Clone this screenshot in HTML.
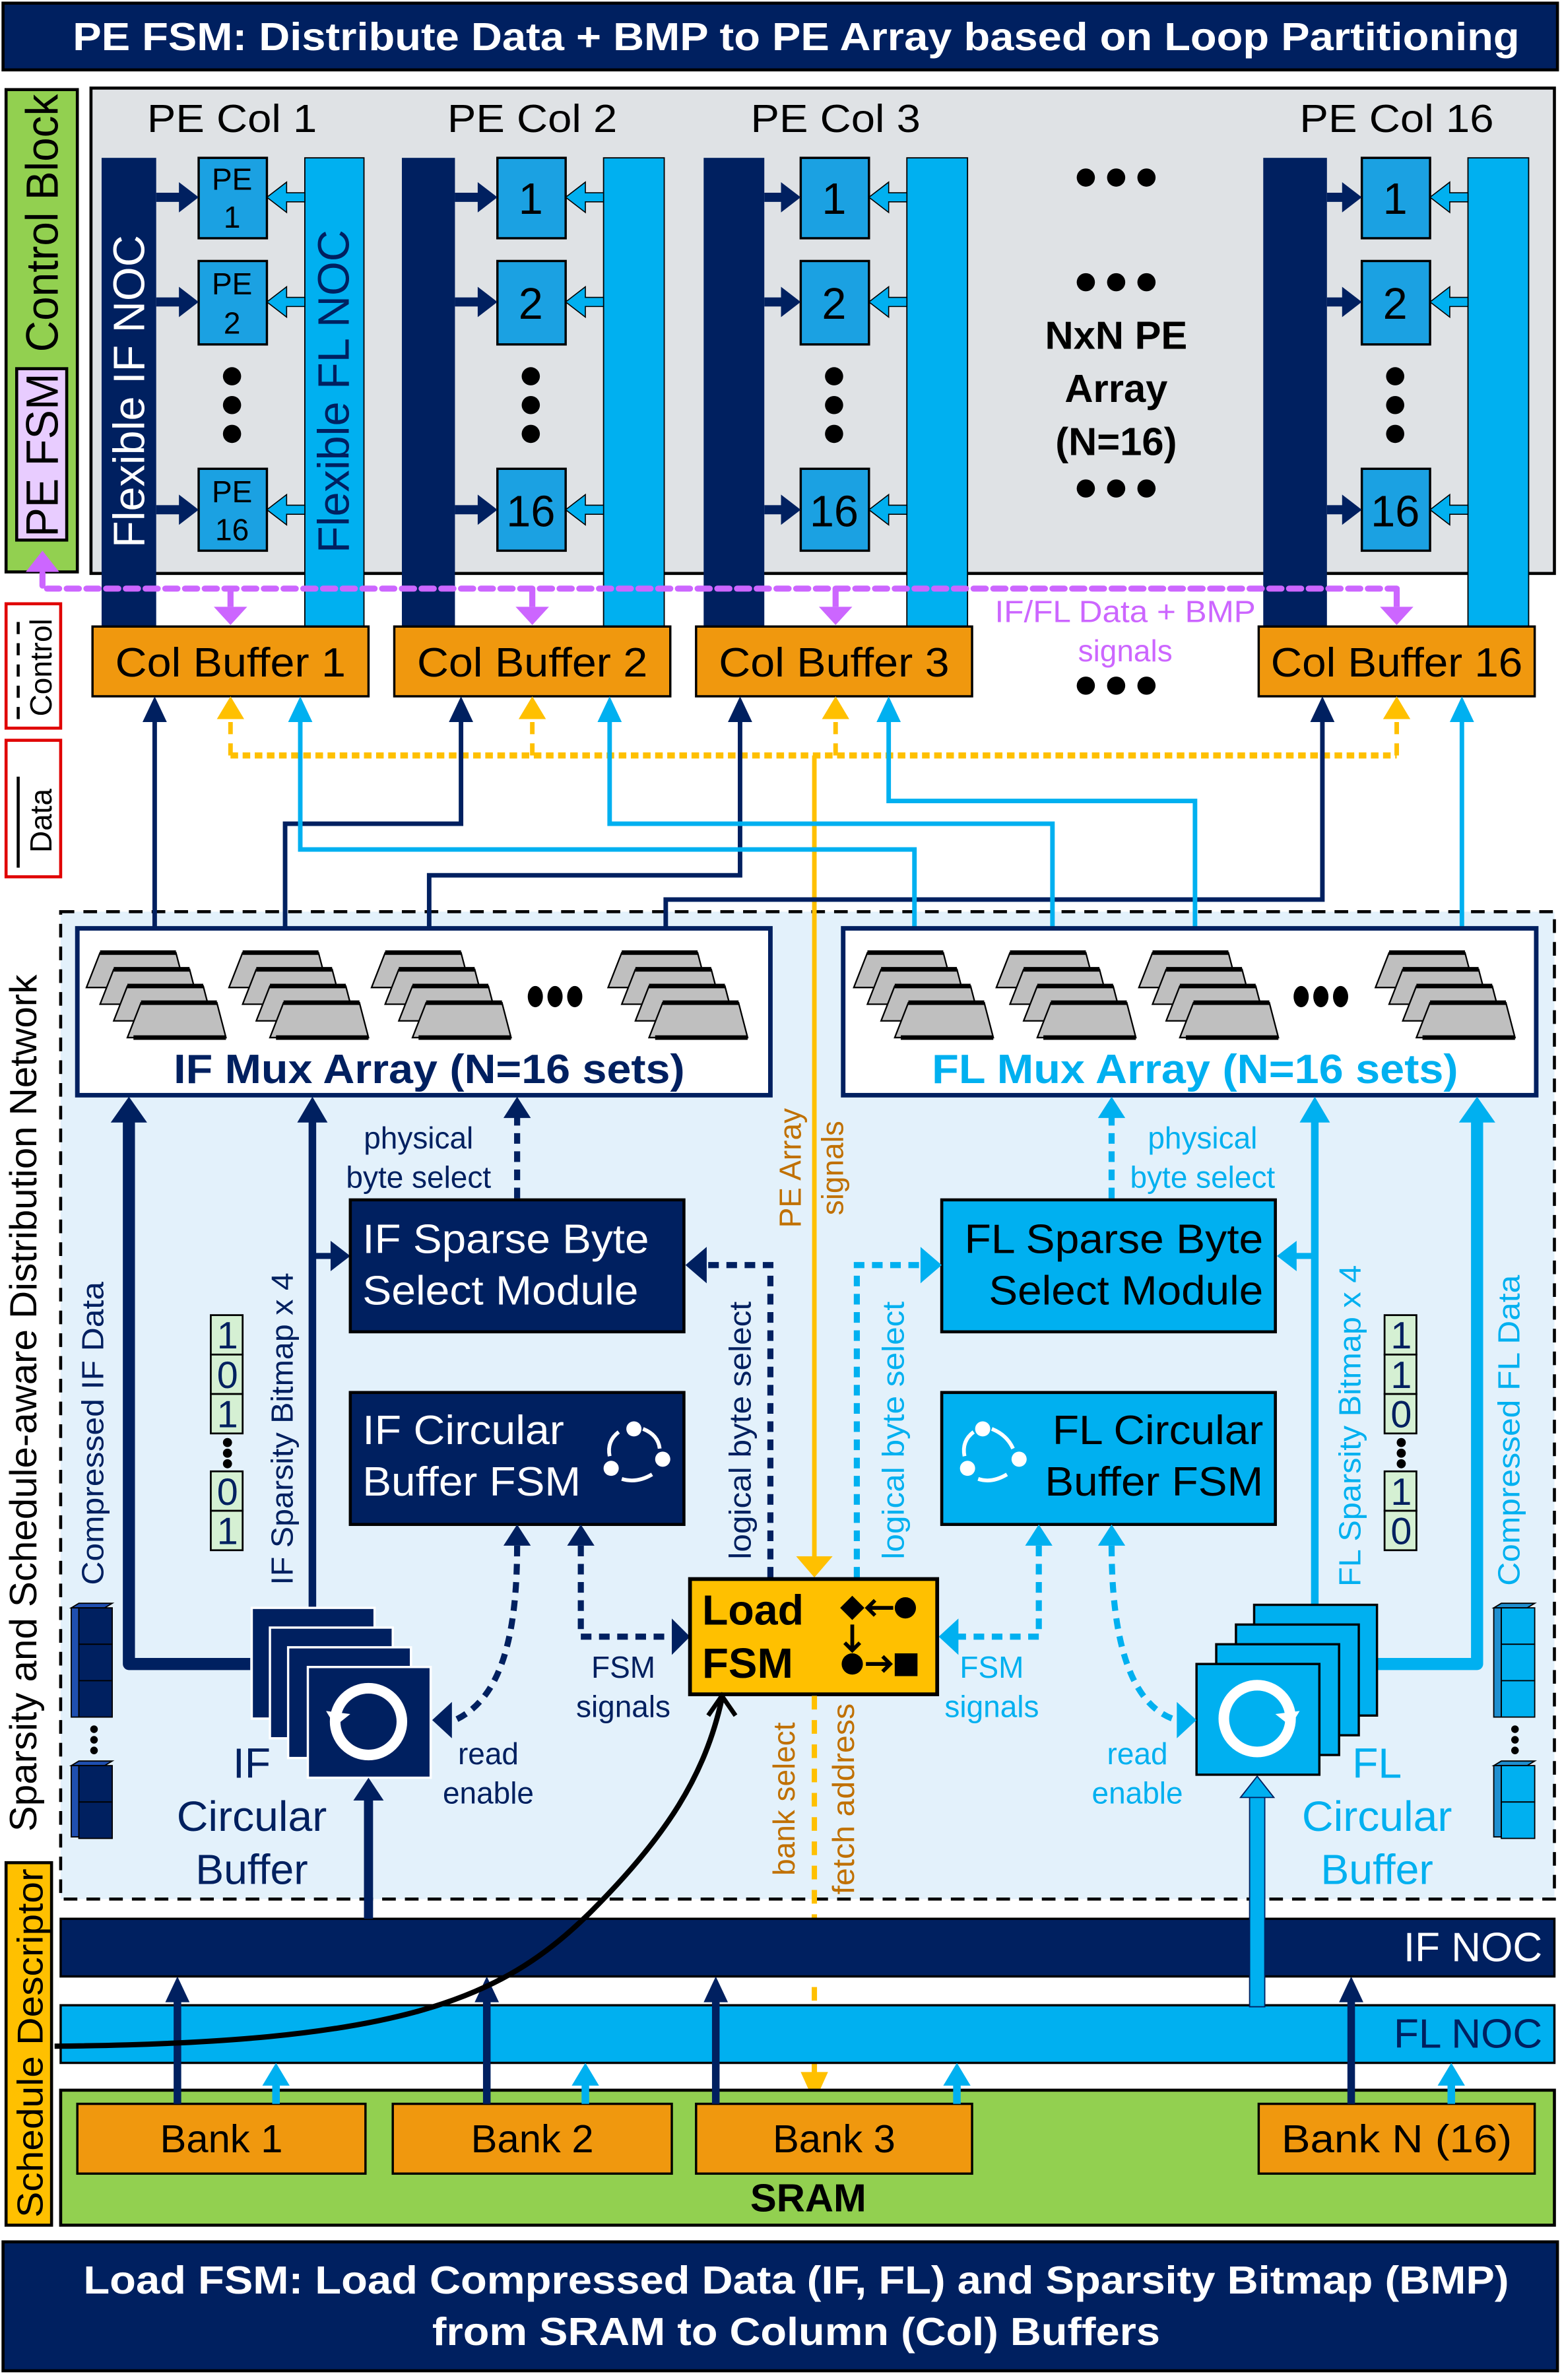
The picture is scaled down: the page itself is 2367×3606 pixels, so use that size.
<!DOCTYPE html>
<html><head><meta charset="utf-8"><style>html,body{margin:0;padding:0;background:#fff}svg{display:block}text{font-family:"Liberation Sans",Arial,sans-serif}</style></head>
<body>
<svg xmlns="http://www.w3.org/2000/svg" width="2367" height="3606" viewBox="0 0 1030 1569">
<defs>
<g id="mux">
<path d="M4,0h50l6,23h-65z" fill="#BFBFBF" stroke="#000" stroke-width="1"/>
<path d="M13,11h50l6,23h-65z" fill="#BFBFBF" stroke="#000" stroke-width="1"/>
<path d="M22,22h50l6,23h-65z" fill="#BFBFBF" stroke="#000" stroke-width="1"/>
<path d="M31,33h50l6,23h-65z" fill="#BFBFBF" stroke="#000" stroke-width="1"/>
<path d="M4,0h50M13,11h50M22,22h50M31,33h50M26,56h61" stroke="#000" stroke-width="3"/>
</g>
</defs>

<rect x="2" y="2" width="1025" height="44" fill="#002060" stroke="#000" stroke-width="2"/>
<text x="525" y="33" font-size="26" font-weight="bold" fill="#fff" text-anchor="middle" textLength="954" lengthAdjust="spacingAndGlyphs">PE FSM: Distribute Data + BMP to PE Array based on Loop Partitioning</text>

<rect x="4" y="59" width="47" height="318" fill="#92D050" stroke="#000" stroke-width="2"/>
<text transform="translate(38,147) rotate(-90)" font-size="30" text-anchor="middle" textLength="170" lengthAdjust="spacingAndGlyphs" fill="#000">Control Block</text>
<rect x="11" y="243" width="33" height="113" fill="#E8CCFF" stroke="#000" stroke-width="2"/>
<text transform="translate(38,300) rotate(-90)" font-size="30" text-anchor="middle" textLength="108" lengthAdjust="spacingAndGlyphs" fill="#000">PE FSM</text>

<rect x="60" y="58" width="965" height="320" fill="#DFE2E5" stroke="#000" stroke-width="2"/>
<g font-size="26" text-anchor="middle" fill="#000">
<text x="153" y="87" textLength="112" lengthAdjust="spacingAndGlyphs">PE Col 1</text><text x="351" y="87" textLength="112" lengthAdjust="spacingAndGlyphs">PE Col 2</text><text x="551" y="87" textLength="112" lengthAdjust="spacingAndGlyphs">PE Col 3</text><text x="921" y="87" textLength="128" lengthAdjust="spacingAndGlyphs">PE Col 16</text>
</g>
<g font-size="26" font-weight="bold" text-anchor="middle" fill="#000">
<text x="736" y="230">NxN PE</text><text x="736" y="265">Array</text><text x="736" y="300">(N=16)</text>
</g>
<g fill="#000">
<circle cx="716" cy="117" r="6"/><circle cx="736" cy="117" r="6"/><circle cx="756" cy="117" r="6"/>
<circle cx="716" cy="186" r="6"/><circle cx="736" cy="186" r="6"/><circle cx="756" cy="186" r="6"/>
<circle cx="716" cy="322" r="6"/><circle cx="736" cy="322" r="6"/><circle cx="756" cy="322" r="6"/>
<circle cx="716" cy="452" r="6"/><circle cx="736" cy="452" r="6"/><circle cx="756" cy="452" r="6"/>
<circle cx="739" cy="1410" r="6"/><circle cx="722" cy="1410" r="6"/><circle cx="756" cy="1410" r="6"/>
</g>

<g>
<rect x="67" y="104" width="36" height="309" fill="#002060"/>
<rect x="201" y="104" width="39" height="309" fill="#00B0F0" stroke="#000" stroke-width="0.8"/>
<rect x="265" y="104" width="35" height="309" fill="#002060"/>
<rect x="398" y="104" width="40" height="309" fill="#00B0F0" stroke="#000" stroke-width="0.8"/>
<rect x="464" y="104" width="40" height="309" fill="#002060"/>
<rect x="598" y="104" width="40" height="309" fill="#00B0F0" stroke="#000" stroke-width="0.8"/>
<rect x="833" y="104" width="42" height="309" fill="#002060"/>
<rect x="968" y="104" width="40" height="309" fill="#00B0F0" stroke="#000" stroke-width="0.8"/>
</g>
<text transform="translate(95,258) rotate(-90)" font-size="29" fill="#fff" text-anchor="middle">Flexible IF NOC</text>
<text transform="translate(230,258) rotate(-90)" font-size="29" fill="#002060" text-anchor="middle">Flexible FL NOC</text>

<g stroke="#000" stroke-width="1.5" fill="#1BA1E2">
<rect x="131" y="104" width="45" height="53"/><rect x="131" y="172" width="45" height="55"/><rect x="131" y="309" width="45" height="54"/>
<rect x="328" y="104" width="45" height="53"/><rect x="328" y="172" width="45" height="55"/><rect x="328" y="309" width="45" height="54"/>
<rect x="528" y="104" width="45" height="53"/><rect x="528" y="172" width="45" height="55"/><rect x="528" y="309" width="45" height="54"/>
<rect x="898" y="104" width="45" height="53"/><rect x="898" y="172" width="45" height="55"/><rect x="898" y="309" width="45" height="54"/>
</g>
<g font-size="20" text-anchor="middle" fill="#000">
<text x="153" y="125">PE</text><text x="153" y="150">1</text>
<text x="153" y="194">PE</text><text x="153" y="220">2</text>
<text x="153" y="331">PE</text><text x="153" y="356">16</text>
</g>
<g font-size="29" text-anchor="middle" fill="#000">
<text x="350" y="141">1</text><text x="350" y="210">2</text><text x="350" y="347">16</text>
<text x="550" y="141">1</text><text x="550" y="210">2</text><text x="550" y="347">16</text>
<text x="920" y="141">1</text><text x="920" y="210">2</text><text x="920" y="347">16</text>
</g>
<g fill="#000">
<circle cx="153" cy="248" r="6"/><circle cx="153" cy="267" r="6"/><circle cx="153" cy="286" r="6"/>
<circle cx="350" cy="248" r="6"/><circle cx="350" cy="267" r="6"/><circle cx="350" cy="286" r="6"/>
<circle cx="550" cy="248" r="6"/><circle cx="550" cy="267" r="6"/><circle cx="550" cy="286" r="6"/>
<circle cx="920" cy="248" r="6"/><circle cx="920" cy="267" r="6"/><circle cx="920" cy="286" r="6"/>
</g>
<g fill="#002060">
<path d="M103,127h15v-7l13,10-13,10v-7h-15z"/><path d="M103,196h15v-7l13,10-13,10v-7h-15z"/><path d="M103,333h15v-7l13,10-13,10v-7h-15z"/>
<path d="M300,127h15v-7l13,10-13,10v-7h-15z"/><path d="M300,196h15v-7l13,10-13,10v-7h-15z"/><path d="M300,333h15v-7l13,10-13,10v-7h-15z"/>
<path d="M504,127h11v-7l13,10-13,10v-7h-11z"/><path d="M504,196h11v-7l13,10-13,10v-7h-11z"/><path d="M504,333h11v-7l13,10-13,10v-7h-11z"/>
<path d="M875,127h10v-7l13,10-13,10v-7h-10z"/><path d="M875,196h10v-7l13,10-13,10v-7h-10z"/><path d="M875,333h10v-7l13,10-13,10v-7h-10z"/>
</g>
<g fill="#00B0F0" stroke="#000" stroke-width="0.7">
<path d="M201,127h-12v-7l-13,10,13,10v-7h12z"/><path d="M201,196h-12v-7l-13,10,13,10v-7h12z"/><path d="M201,333h-12v-7l-13,10,13,10v-7h12z"/>
<path d="M398,127h-12v-7l-13,10,13,10v-7h12z"/><path d="M398,196h-12v-7l-13,10,13,10v-7h12z"/><path d="M398,333h-12v-7l-13,10,13,10v-7h12z"/>
<path d="M598,127h-12v-7l-13,10,13,10v-7h12z"/><path d="M598,196h-12v-7l-13,10,13,10v-7h12z"/><path d="M598,333h-12v-7l-13,10,13,10v-7h12z"/>
<path d="M968,127h-12v-7l-13,10,13,10v-7h12z"/><path d="M968,196h-12v-7l-13,10,13,10v-7h12z"/><path d="M968,333h-12v-7l-13,10,13,10v-7h12z"/>
</g>

<path d="M28,378V388H921" fill="none" stroke="#CC66FF" stroke-width="4" stroke-dasharray="8,5" stroke-linecap="round"/>
<polygon points="17,377 39,377 28,363" fill="#CC66FF"/>
<g fill="#CC66FF"><polygon points="141,400 163,400 152,412"/><polygon points="340,400 362,400 351,412"/><polygon points="540,400 562,400 551,412"/><polygon points="910,400 932,400 921,412"/></g>
<g stroke="#CC66FF" stroke-width="4"><path d="M152,388v12M351,388v12M551,388v12M921,388v12"/></g>
<text x="742" y="410" font-size="20" fill="#CC66FF" text-anchor="middle" textLength="172" lengthAdjust="spacingAndGlyphs">IF/FL Data + BMP</text>
<text x="742" y="436" font-size="20" fill="#CC66FF" text-anchor="middle">signals</text>

<g fill="#F0980E" stroke="#000" stroke-width="1.5">
<rect x="61" y="413" width="182" height="46"/><rect x="260" y="413" width="182" height="46"/><rect x="459" y="413" width="182" height="46"/><rect x="830" y="413" width="182" height="46"/>
</g>
<g font-size="27" text-anchor="middle" fill="#000">
<text x="152" y="446" textLength="152" lengthAdjust="spacingAndGlyphs">Col Buffer 1</text><text x="351" y="446" textLength="152" lengthAdjust="spacingAndGlyphs">Col Buffer 2</text><text x="550" y="446" textLength="152" lengthAdjust="spacingAndGlyphs">Col Buffer 3</text><text x="921" y="446" textLength="166" lengthAdjust="spacingAndGlyphs">Col Buffer 16</text>
</g>

<rect x="4" y="398" width="36" height="82" fill="#fff" stroke="#E00000" stroke-width="2"/>
<line x1="12" y1="410" x2="12" y2="478" stroke="#000" stroke-width="2" stroke-dasharray="8,6"/>
<text transform="translate(34,440) rotate(-90)" font-size="20" text-anchor="middle">Control</text>
<rect x="4" y="488" width="36" height="90" fill="#fff" stroke="#E00000" stroke-width="2"/>
<line x1="12" y1="512" x2="12" y2="572" stroke="#000" stroke-width="2"/>
<text transform="translate(34,541) rotate(-90)" font-size="20" text-anchor="middle">Data</text>

<rect x="40" y="601" width="985" height="651" fill="#E3F1FB" stroke="#000" stroke-width="2" stroke-dasharray="9,6"/>
<text transform="translate(24,925) rotate(-90)" font-size="25" text-anchor="middle" textLength="565" lengthAdjust="spacingAndGlyphs">Sparsity and Schedule-aware Distribution Network</text>

<path d="M152,498H921" fill="none" stroke="#FFC000" stroke-width="4" stroke-dasharray="5,3"/>
<g stroke="#FFC000" stroke-width="3" stroke-dasharray="8,6" fill="none"><path d="M152,498V470M351,498V470M551,498V470M921,498V470"/></g>
<g fill="#FFC000"><polygon points="143,474 161,474 152,459"/><polygon points="342,474 360,474 351,459"/><polygon points="542,474 560,474 551,459"/><polygon points="912,474 930,474 921,459"/></g>
<line x1="537" y1="498" x2="537" y2="1030" stroke="#FFC000" stroke-width="3"/>
<polygon points="525,1026 549,1026 537,1040" fill="#FFC000"/>

<g fill="none" stroke="#002060" stroke-width="3">
<path d="M102,613V474"/>
<path d="M188,613V543H304V474"/>
<path d="M283,613V577H488V474"/>
<path d="M439,613V593H872V474"/>
</g>
<g fill="none" stroke="#00B0F0" stroke-width="3">
<path d="M603,613V560H198V474"/>
<path d="M694,613V543H402V474"/>
<path d="M788,613V528H586V474"/>
<path d="M964,613V474"/>
</g>
<g fill="#002060"><polygon points="94,476 110,476 102,459"/><polygon points="296,476 312,476 304,459"/><polygon points="480,476 496,476 488,459"/><polygon points="864,476 880,476 872,459"/></g>
<g fill="#00B0F0"><polygon points="190,476 206,476 198,459"/><polygon points="394,476 410,476 402,459"/><polygon points="578,476 594,476 586,459"/><polygon points="956,476 972,476 964,459"/></g>

<rect x="51" y="612" width="457" height="110" fill="#fff" stroke="#002060" stroke-width="3"/>
<rect x="556" y="612" width="457" height="110" fill="#fff" stroke="#002060" stroke-width="3"/>
<use href="#mux" x="62" y="628"/><use href="#mux" x="156" y="628"/><use href="#mux" x="250" y="628"/><use href="#mux" x="406" y="628"/>
<use href="#mux" x="568" y="628"/><use href="#mux" x="662" y="628"/><use href="#mux" x="756" y="628"/><use href="#mux" x="912" y="628"/>
<g fill="#000"><ellipse cx="353" cy="657" rx="5" ry="7"/><ellipse cx="366" cy="657" rx="5" ry="7"/><ellipse cx="379" cy="657" rx="5" ry="7"/>
<ellipse cx="858" cy="657" rx="5" ry="7"/><ellipse cx="871" cy="657" rx="5" ry="7"/><ellipse cx="884" cy="657" rx="5" ry="7"/></g>
<text x="283" y="714" font-size="27" font-weight="bold" fill="#002060" text-anchor="middle" textLength="337" lengthAdjust="spacingAndGlyphs">IF Mux Array (N=16 sets)</text>
<text x="788" y="714" font-size="27" font-weight="bold" fill="#00B0F0" text-anchor="middle" textLength="347" lengthAdjust="spacingAndGlyphs">FL Mux Array (N=16 sets)</text>

<path d="M165,1097H85V736" fill="none" stroke="#002060" stroke-width="8" stroke-linejoin="round"/>
<polygon points="73,740 97,740 85,723" fill="#002060"/>
<line x1="206" y1="1062" x2="206" y2="736" stroke="#002060" stroke-width="5"/>
<polygon points="196,740 216,740 206,723" fill="#002060"/>
<line x1="206" y1="828" x2="222" y2="828" stroke="#002060" stroke-width="4"/>
<polygon points="218,818 231,828 218,838" fill="#002060"/>
<path d="M908,1097H974V736" fill="none" stroke="#00B0F0" stroke-width="8" stroke-linejoin="round"/>
<polygon points="962,740 986,740 974,723" fill="#00B0F0"/>
<line x1="867" y1="1062" x2="867" y2="736" stroke="#00B0F0" stroke-width="5"/>
<polygon points="857,740 877,740 867,723" fill="#00B0F0"/>
<line x1="867" y1="828" x2="851" y2="828" stroke="#00B0F0" stroke-width="4"/>
<polygon points="855,818 842,828 855,838" fill="#00B0F0"/>

<line x1="341" y1="790" x2="341" y2="736" stroke="#002060" stroke-width="4" stroke-dasharray="7,5"/>
<polygon points="332,737 350,737 341,723" fill="#002060"/>
<text x="276" y="757" font-size="20" fill="#002060" text-anchor="middle">physical</text>
<text x="276" y="783" font-size="20" fill="#002060" text-anchor="middle">byte select</text>
<line x1="733" y1="790" x2="733" y2="736" stroke="#00B0F0" stroke-width="4" stroke-dasharray="7,5"/>
<polygon points="724,737 742,737 733,723" fill="#00B0F0"/>
<text x="793" y="757" font-size="20" fill="#00B0F0" text-anchor="middle">physical</text>
<text x="793" y="783" font-size="20" fill="#00B0F0" text-anchor="middle">byte select</text>

<rect x="231" y="791" width="220" height="87" fill="#002060" stroke="#000" stroke-width="2"/>
<text x="239" y="826" font-size="27" fill="#fff" textLength="189" lengthAdjust="spacingAndGlyphs">IF Sparse Byte</text>
<text x="239" y="860" font-size="27" fill="#fff" textLength="182" lengthAdjust="spacingAndGlyphs">Select Module</text>
<rect x="231" y="918" width="220" height="87" fill="#002060" stroke="#000" stroke-width="2"/>
<text x="239" y="952" font-size="27" fill="#fff" textLength="133" lengthAdjust="spacingAndGlyphs">IF Circular</text>
<text x="239" y="986" font-size="27" fill="#fff" textLength="144" lengthAdjust="spacingAndGlyphs">Buffer FSM</text>
<rect x="621" y="791" width="220" height="87" fill="#00B0F0" stroke="#000" stroke-width="2"/>
<text x="636" y="826" font-size="27" fill="#000" textLength="197" lengthAdjust="spacingAndGlyphs">FL Sparse Byte</text>
<text x="652" y="860" font-size="27" fill="#000" textLength="181" lengthAdjust="spacingAndGlyphs">Select Module</text>
<rect x="621" y="918" width="220" height="87" fill="#00B0F0" stroke="#000" stroke-width="2"/>
<text x="694" y="952" font-size="27" fill="#000" textLength="139" lengthAdjust="spacingAndGlyphs">FL Circular</text>
<text x="689" y="986" font-size="27" fill="#000" textLength="144" lengthAdjust="spacingAndGlyphs">Buffer FSM</text>
<g fill="#fff"><circle cx="418" cy="942" r="5"/><circle cx="403" cy="968" r="5"/><circle cx="437" cy="962" r="5"/></g>
<g fill="none" stroke="#fff" stroke-width="2.5"><path d="M424,942 Q434,946 435,955"/><path d="M430,972 Q420,978 410,975"/><path d="M402,960 Q400,950 408,944"/></g>
<g fill="#fff"><circle cx="648" cy="942" r="5"/><circle cx="638" cy="968" r="5"/><circle cx="672" cy="962" r="5"/></g>
<g fill="none" stroke="#fff" stroke-width="2.5"><path d="M654,942 Q664,946 668,955"/><path d="M664,972 Q654,978 645,975"/><path d="M636,960 Q634,950 642,944"/></g>

<g stroke="#000" stroke-width="1.2" fill="#D5F0D3">
<rect x="139" y="867" width="21" height="26"/><rect x="139" y="893" width="21" height="26"/><rect x="139" y="919" width="21" height="26"/>
<rect x="139" y="970" width="21" height="26"/><rect x="139" y="996" width="21" height="26"/>
<rect x="913" y="867" width="21" height="26"/><rect x="913" y="893" width="21" height="26"/><rect x="913" y="919" width="21" height="26"/>
<rect x="913" y="970" width="21" height="26"/><rect x="913" y="996" width="21" height="26"/>
</g>
<g font-size="25" fill="#002060" text-anchor="middle">
<text x="150" y="889">1</text><text x="150" y="915">0</text><text x="150" y="941">1</text><text x="150" y="992">0</text><text x="150" y="1018">1</text>
<text x="924" y="889">1</text><text x="924" y="915">1</text><text x="924" y="941">0</text><text x="924" y="992">1</text><text x="924" y="1018">0</text>
</g>
<g fill="#000"><circle cx="150" cy="951" r="3"/><circle cx="150" cy="958" r="3"/><circle cx="150" cy="965" r="3"/>
<circle cx="924" cy="951" r="3"/><circle cx="924" cy="958" r="3"/><circle cx="924" cy="965" r="3"/></g>

<text transform="translate(68,945) rotate(-90)" font-size="20" fill="#002060" text-anchor="middle" textLength="200" lengthAdjust="spacingAndGlyphs">Compressed IF Data</text>
<text transform="translate(193,942) rotate(-90)" font-size="20" fill="#002060" text-anchor="middle" textLength="206" lengthAdjust="spacingAndGlyphs">IF Sparsity Bitmap x 4</text>
<text transform="translate(495,943) rotate(-90)" font-size="20" fill="#002060" text-anchor="middle" textLength="170" lengthAdjust="spacingAndGlyphs">logical byte select</text>
<text transform="translate(596,943) rotate(-90)" font-size="20" fill="#00B0F0" text-anchor="middle" textLength="170" lengthAdjust="spacingAndGlyphs">logical byte select</text>
<text transform="translate(897,940) rotate(-90)" font-size="20" fill="#00B0F0" text-anchor="middle" textLength="212" lengthAdjust="spacingAndGlyphs">FL Sparsity Bitmap x 4</text>
<text transform="translate(1002,943) rotate(-90)" font-size="20" fill="#00B0F0" text-anchor="middle" textLength="205" lengthAdjust="spacingAndGlyphs">Compressed FL Data</text>
<text transform="translate(528,770) rotate(-90)" font-size="20" fill="#C07000" text-anchor="middle">PE Array</text>
<text transform="translate(556,770) rotate(-90)" font-size="20" fill="#C07000" text-anchor="middle">signals</text>
<text transform="translate(524,1186) rotate(-90)" font-size="20" fill="#C07000" text-anchor="middle">bank select</text>
<text transform="translate(563,1186) rotate(-90)" font-size="20" fill="#C07000" text-anchor="middle" textLength="126" lengthAdjust="spacingAndGlyphs">fetch address</text>

<g stroke="#000" stroke-width="0.8">
<g fill="#1F4FB0"><path d="M47,1060l5,-3h22l-5,3z"/><rect x="47" y="1060" width="5" height="72"/></g>
<g fill="#002060"><rect x="52" y="1060" width="22" height="24"/><rect x="52" y="1084" width="22" height="24"/><rect x="52" y="1108" width="22" height="24"/></g>
<g fill="#1F4FB0"><path d="M47,1164l5,-3h22l-5,3z"/><rect x="47" y="1164" width="5" height="47"/></g>
<g fill="#002060"><rect x="52" y="1164" width="22" height="24"/><rect x="52" y="1188" width="22" height="24"/></g>
<g fill="#1F8FD0"><path d="M985,1060l5,-3h22l-5,3z"/><rect x="985" y="1060" width="5" height="72"/></g>
<g fill="#00B0F0"><rect x="990" y="1060" width="22" height="24"/><rect x="990" y="1084" width="22" height="24"/><rect x="990" y="1108" width="22" height="24"/></g>
<g fill="#1F8FD0"><path d="M985,1164l5,-3h22l-5,3z"/><rect x="985" y="1164" width="5" height="47"/></g>
<g fill="#00B0F0"><rect x="990" y="1164" width="22" height="24"/><rect x="990" y="1188" width="22" height="24"/></g>
</g>
<g fill="#000"><circle cx="62" cy="1140" r="2.5"/><circle cx="62" cy="1147" r="2.5"/><circle cx="62" cy="1154" r="2.5"/>
<circle cx="999" cy="1140" r="2.5"/><circle cx="999" cy="1147" r="2.5"/><circle cx="999" cy="1154" r="2.5"/></g>

<g stroke="#fff" stroke-width="1.5" fill="#002060">
<rect x="166" y="1060" width="81" height="73"/><rect x="178" y="1073" width="81" height="73"/><rect x="190" y="1086" width="81" height="73"/><rect x="203" y="1099" width="81" height="73"/>
</g>
<circle cx="243" cy="1135" r="22" fill="none" stroke="#fff" stroke-width="7"/>
<path d="M221,1138 l-6,-10 l16,2z" fill="#fff"/>
<text x="166" y="1172" font-size="28" fill="#002060" text-anchor="middle">IF</text>
<text x="166" y="1207" font-size="28" fill="#002060" text-anchor="middle" textLength="99" lengthAdjust="spacingAndGlyphs">Circular</text>
<text x="166" y="1242" font-size="28" fill="#002060" text-anchor="middle">Buffer</text>
<g stroke="#000" stroke-width="1.5" fill="#00B0F0">
<rect x="827" y="1058" width="81" height="73"/><rect x="815" y="1071" width="81" height="73"/><rect x="802" y="1084" width="81" height="73"/><rect x="789" y="1097" width="81" height="73"/>
</g>
<circle cx="829" cy="1133" r="22" fill="none" stroke="#fff" stroke-width="7"/>
<path d="M851,1138 l6,-10 l-16,2z" fill="#fff"/>
<text x="908" y="1172" font-size="28" fill="#00B0F0" text-anchor="middle">FL</text>
<text x="908" y="1207" font-size="28" fill="#00B0F0" text-anchor="middle" textLength="99" lengthAdjust="spacingAndGlyphs">Circular</text>
<text x="908" y="1242" font-size="28" fill="#00B0F0" text-anchor="middle">Buffer</text>

<path d="M508,1040V834H465" fill="none" stroke="#002060" stroke-width="4" stroke-dasharray="7,5"/>
<polygon points="466,822 452,834 466,846" fill="#002060"/>
<path d="M383,1019V1079H443" fill="none" stroke="#002060" stroke-width="4" stroke-dasharray="7,5"/>
<polygon points="374,1019 392,1019 383,1005" fill="#002060"/>
<polygon points="443,1067 455,1079 443,1091" fill="#002060"/>
<path d="M341,1019C341,1080 330,1120 300,1134" fill="none" stroke="#002060" stroke-width="4" stroke-dasharray="7,5"/>
<polygon points="332,1019 350,1019 341,1005" fill="#002060"/>
<polygon points="298,1122 285,1134 298,1146" fill="#002060"/>
<text x="411" y="1106" font-size="20" fill="#002060" text-anchor="middle">FSM</text>
<text x="411" y="1132" font-size="20" fill="#002060" text-anchor="middle">signals</text>
<text x="322" y="1163" font-size="20" fill="#002060" text-anchor="middle">read</text>
<text x="322" y="1189" font-size="20" fill="#002060" text-anchor="middle">enable</text>
<path d="M565,1040V834H608" fill="none" stroke="#00B0F0" stroke-width="4" stroke-dasharray="7,5"/>
<polygon points="607,822 621,834 607,846" fill="#00B0F0"/>
<path d="M685,1019V1079H631" fill="none" stroke="#00B0F0" stroke-width="4" stroke-dasharray="7,5"/>
<polygon points="676,1019 694,1019 685,1005" fill="#00B0F0"/>
<polygon points="632,1067 619,1079 632,1091" fill="#00B0F0"/>
<path d="M733,1019C733,1080 745,1125 776,1134" fill="none" stroke="#00B0F0" stroke-width="4" stroke-dasharray="7,5"/>
<polygon points="724,1019 742,1019 733,1005" fill="#00B0F0"/>
<polygon points="776,1122 789,1134 776,1146" fill="#00B0F0"/>
<text x="654" y="1106" font-size="20" fill="#00B0F0" text-anchor="middle">FSM</text>
<text x="654" y="1132" font-size="20" fill="#00B0F0" text-anchor="middle">signals</text>
<text x="750" y="1163" font-size="20" fill="#00B0F0" text-anchor="middle">read</text>
<text x="750" y="1189" font-size="20" fill="#00B0F0" text-anchor="middle">enable</text>

<rect x="455" y="1041" width="163" height="76" fill="#FFC000" stroke="#000" stroke-width="2.5"/>
<text x="463" y="1071" font-size="28" font-weight="bold" textLength="67" lengthAdjust="spacingAndGlyphs">Load</text>
<text x="463" y="1106" font-size="28" font-weight="bold" textLength="60" lengthAdjust="spacingAndGlyphs">FSM</text>
<g fill="#000"><path d="M562,1052l8,8-8,8-8-8z"/><circle cx="597" cy="1060" r="7"/><circle cx="562" cy="1097" r="7"/><rect x="590" y="1090" width="15" height="15"/></g>
<g stroke="#000" stroke-width="2.5" fill="none"><path d="M589,1060h-16M577,1055l-5,5 5,5"/><path d="M562,1071v17M557,1083l5,5 5,-5"/><path d="M571,1097h16M582,1092l5,5-5,5"/></g>

<line x1="537" y1="1118" x2="537" y2="1370" stroke="#FFC000" stroke-width="3.5" stroke-dasharray="9,7"/>
<polygon points="528,1366 546,1366 537,1386" fill="#FFC000"/>

<rect x="40" y="1265" width="985" height="38" fill="#002060" stroke="#000" stroke-width="1.5"/>
<text x="1017" y="1293" font-size="27" fill="#fff" text-anchor="end">IF NOC</text>
<rect x="40" y="1322" width="985" height="38" fill="#00B0F0" stroke="#000" stroke-width="1.5"/>
<text x="1017" y="1350" font-size="27" fill="#002060" text-anchor="end">FL NOC</text>
<line x1="243" y1="1265" x2="243" y2="1185" stroke="#002060" stroke-width="6"/>
<polygon points="233,1187 253,1187 243,1172" fill="#002060"/>
<rect x="824" y="1183" width="10" height="140" fill="#00B0F0" stroke="#002060" stroke-width="0.8"/>
<polygon points="818,1185 840,1185 829,1171" fill="#00B0F0" stroke="#002060" stroke-width="0.8"/>

<rect x="40" y="1378" width="985" height="89" fill="#92D050" stroke="#000" stroke-width="2"/>
<g fill="#F0980E" stroke="#000" stroke-width="1.5">
<rect x="51" y="1387" width="190" height="46"/><rect x="259" y="1387" width="184" height="46"/><rect x="459" y="1387" width="182" height="46"/><rect x="830" y="1387" width="182" height="46"/>
</g>
<g font-size="26" text-anchor="middle"><text x="146" y="1419">Bank 1</text><text x="351" y="1419">Bank 2</text><text x="550" y="1419">Bank 3</text><text x="921" y="1419" textLength="152" lengthAdjust="spacingAndGlyphs">Bank N (16)</text></g>
<text x="533" y="1458" font-size="26" font-weight="bold" text-anchor="middle">SRAM</text>
<g stroke="#002060" stroke-width="5"><path d="M117,1387V1318M321,1387V1318M472,1387V1318M891,1387V1318"/></g>
<g fill="#002060"><polygon points="109,1320 125,1320 117,1303"/><polygon points="313,1320 329,1320 321,1303"/><polygon points="464,1320 480,1320 472,1303"/><polygon points="883,1320 899,1320 891,1303"/></g>
<g stroke="#00B0F0" stroke-width="5"><path d="M182,1387V1373M386,1387V1373M631,1387V1373M957,1387V1373"/></g>
<g fill="#00B0F0"><polygon points="173,1375 191,1375 182,1360"/><polygon points="377,1375 395,1375 386,1360"/><polygon points="622,1375 640,1375 631,1360"/><polygon points="948,1375 966,1375 957,1360"/></g>

<rect x="4" y="1228" width="30" height="239" fill="#FFC000" stroke="#000" stroke-width="2"/>
<text transform="translate(28,1347) rotate(-90)" font-size="24" text-anchor="middle" textLength="230" lengthAdjust="spacingAndGlyphs">Schedule Descriptor</text>
<path d="M36,1349C260,1347 330,1320 390,1260C440,1210 465,1170 476,1120" fill="none" stroke="#000" stroke-width="3.5"/>
<path d="M467,1131L476,1118L485,1131" fill="none" stroke="#000" stroke-width="3"/>

<rect x="2" y="1478" width="1025" height="85" fill="#002060" stroke="#000" stroke-width="2"/>
<text x="525" y="1512" font-size="26" font-weight="bold" fill="#fff" text-anchor="middle" textLength="940" lengthAdjust="spacingAndGlyphs">Load FSM: Load Compressed Data (IF, FL) and Sparsity Bitmap (BMP)</text>
<text x="525" y="1546" font-size="26" font-weight="bold" fill="#fff" text-anchor="middle" textLength="480" lengthAdjust="spacingAndGlyphs">from SRAM to Column (Col) Buffers</text>
</svg>
</body></html>
